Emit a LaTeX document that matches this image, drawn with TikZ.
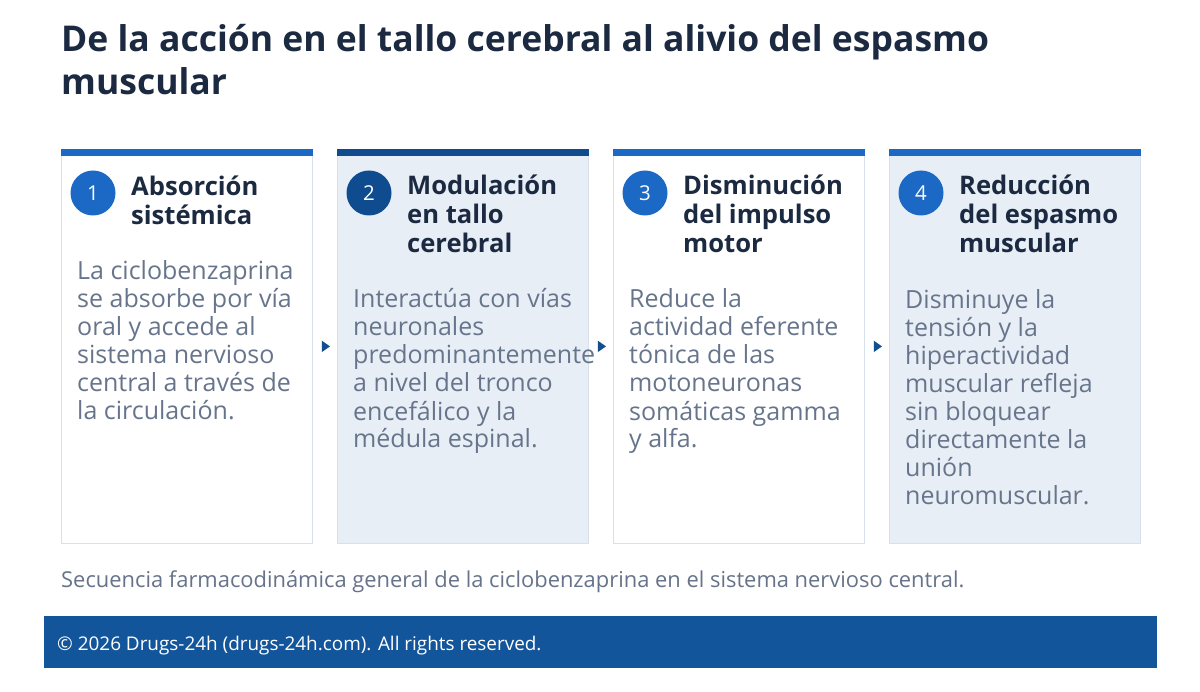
\documentclass[tikz,border=0pt]{standalone}
\usepackage{fontspec}
\setmainfont{Open Sans}
\usetikzlibrary{shapes.geometric}
\definecolor{navy}{HTML}{1B2A41}
\definecolor{bodyc}{HTML}{67758C}
\definecolor{blueA}{HTML}{1B69C4}
\definecolor{blueB}{HTML}{0F4C8F}
\definecolor{cardfill}{HTML}{E8EEF6}
\definecolor{cardline}{HTML}{D6E1ED}
\definecolor{footc}{HTML}{13559B}
\definecolor{arrc}{HTML}{134E8E}
\definecolor{capc}{HTML}{66738A}
\tikzset{
  card/.style={draw=cardline, line width=0.8pt, minimum width=251pt, minimum height=394pt, inner sep=0pt, anchor=north west},
  whitecard/.style={card, fill=white},
  bluecard/.style={card, fill=cardfill},
  numc/.style={circle, minimum size=45pt, inner sep=0pt, text=white, font=\fontsize{20.5}{24}\selectfont},
  head/.style={anchor=base west, inner sep=0pt, align=left, text=navy, font=\bfseries\fontsize{25.6}{29}\selectfont},
  bodyt/.style={anchor=base west, inner sep=0pt, align=left, text=bodyc, font=\fontsize{25}{28}\selectfont},
  tri/.style={isosceles triangle, isosceles triangle apex angle=70, fill=arrc, inner sep=0pt, minimum height=8pt, minimum width=11pt},
}
\begin{document}
\begin{tikzpicture}[x=1pt,y=-1pt]
\useasboundingbox (0,0) rectangle (1200,692);
\fill[white] (0,0) rectangle (1200,692);
\node[anchor=base west, inner sep=0pt, align=left, text=navy, font=\bfseries\fontsize{35.5}{43}\selectfont] (title) at (61,95) {De la acción en el tallo cerebral al alivio del espasmo\\muscular};
% cards
\node[whitecard] (c1) at (61,149) {};
\node[bluecard] (c2) at (337,149) {};
\node[whitecard] (c3) at (613,149) {};
\node[bluecard] (c4) at (889,149) {};
\foreach \c/\col in {c1/blueA,c2/blueB,c3/blueA,c4/blueA}{
  \fill[\col] (\c.north west) rectangle ([yshift=-7pt]\c.north east);
}
% numbers
\node[numc, fill=blueA] (n1) at (93,193) {1};
\node[numc, fill=blueB] (n2) at (369,193) {2};
\node[numc, fill=blueA] (n3) at (645,193) {3};
\node[numc, fill=blueA] (n4) at (921,193) {4};
% headings
\node[head] (h1) at (131,225) {Absorción\\sistémica};
\node[head] (h2) at (407,253) {Modulación\\en tallo\\cerebral};
\node[head] (h3) at (683,253) {Disminución\\del impulso\\motor};
\node[head] (h4) at (959,253) {Reducción\\del espasmo\\muscular};
% bodies
\node[bodyt] (b1) at (77,420) {La ciclobenzaprina\\se absorbe por vía\\oral y accede al\\sistema nervioso\\central a través de\\la circulación.};
\node[bodyt] (b2) at (353,448) {Interactúa con vías\\neuronales\\predominantemente\\a nivel del tronco\\encefálico y la\\médula espinal.};
\node[bodyt] (b3) at (629,448) {Reduce la\\actividad eferente\\tónica de las\\motoneuronas\\somáticas gamma\\y alfa.};
\node[bodyt] (b4) at (905,504) {Disminuye la\\tensión y la\\hiperactividad\\muscular refleja\\sin bloquear\\directamente la\\unión\\neuromuscular.};
% arrows
\path (c1.east) -- (c2.west) node[midway, tri] (a12) {};
\path (c2.east) -- (c3.west) node[midway, tri] (a23) {};
\path (c3.east) -- (c4.west) node[midway, tri] (a34) {};
% caption
\node[anchor=base west, inner sep=0pt, text=capc, font=\fontsize{21.9}{26}\selectfont] (cap) at (61,587) {Secuencia farmacodinámica general de la ciclobenzaprina en el sistema nervioso central.};
% footer
\fill[footc] (44,616) rectangle (1157,668);
\node[anchor=base west, inner sep=0pt, text=white, font=\fontsize{18.9}{22}\selectfont] (foot) at (57,650) {© 2026 Drugs-24h (drugs-24h.com). All rights reserved.};
\end{tikzpicture}
\end{document}
